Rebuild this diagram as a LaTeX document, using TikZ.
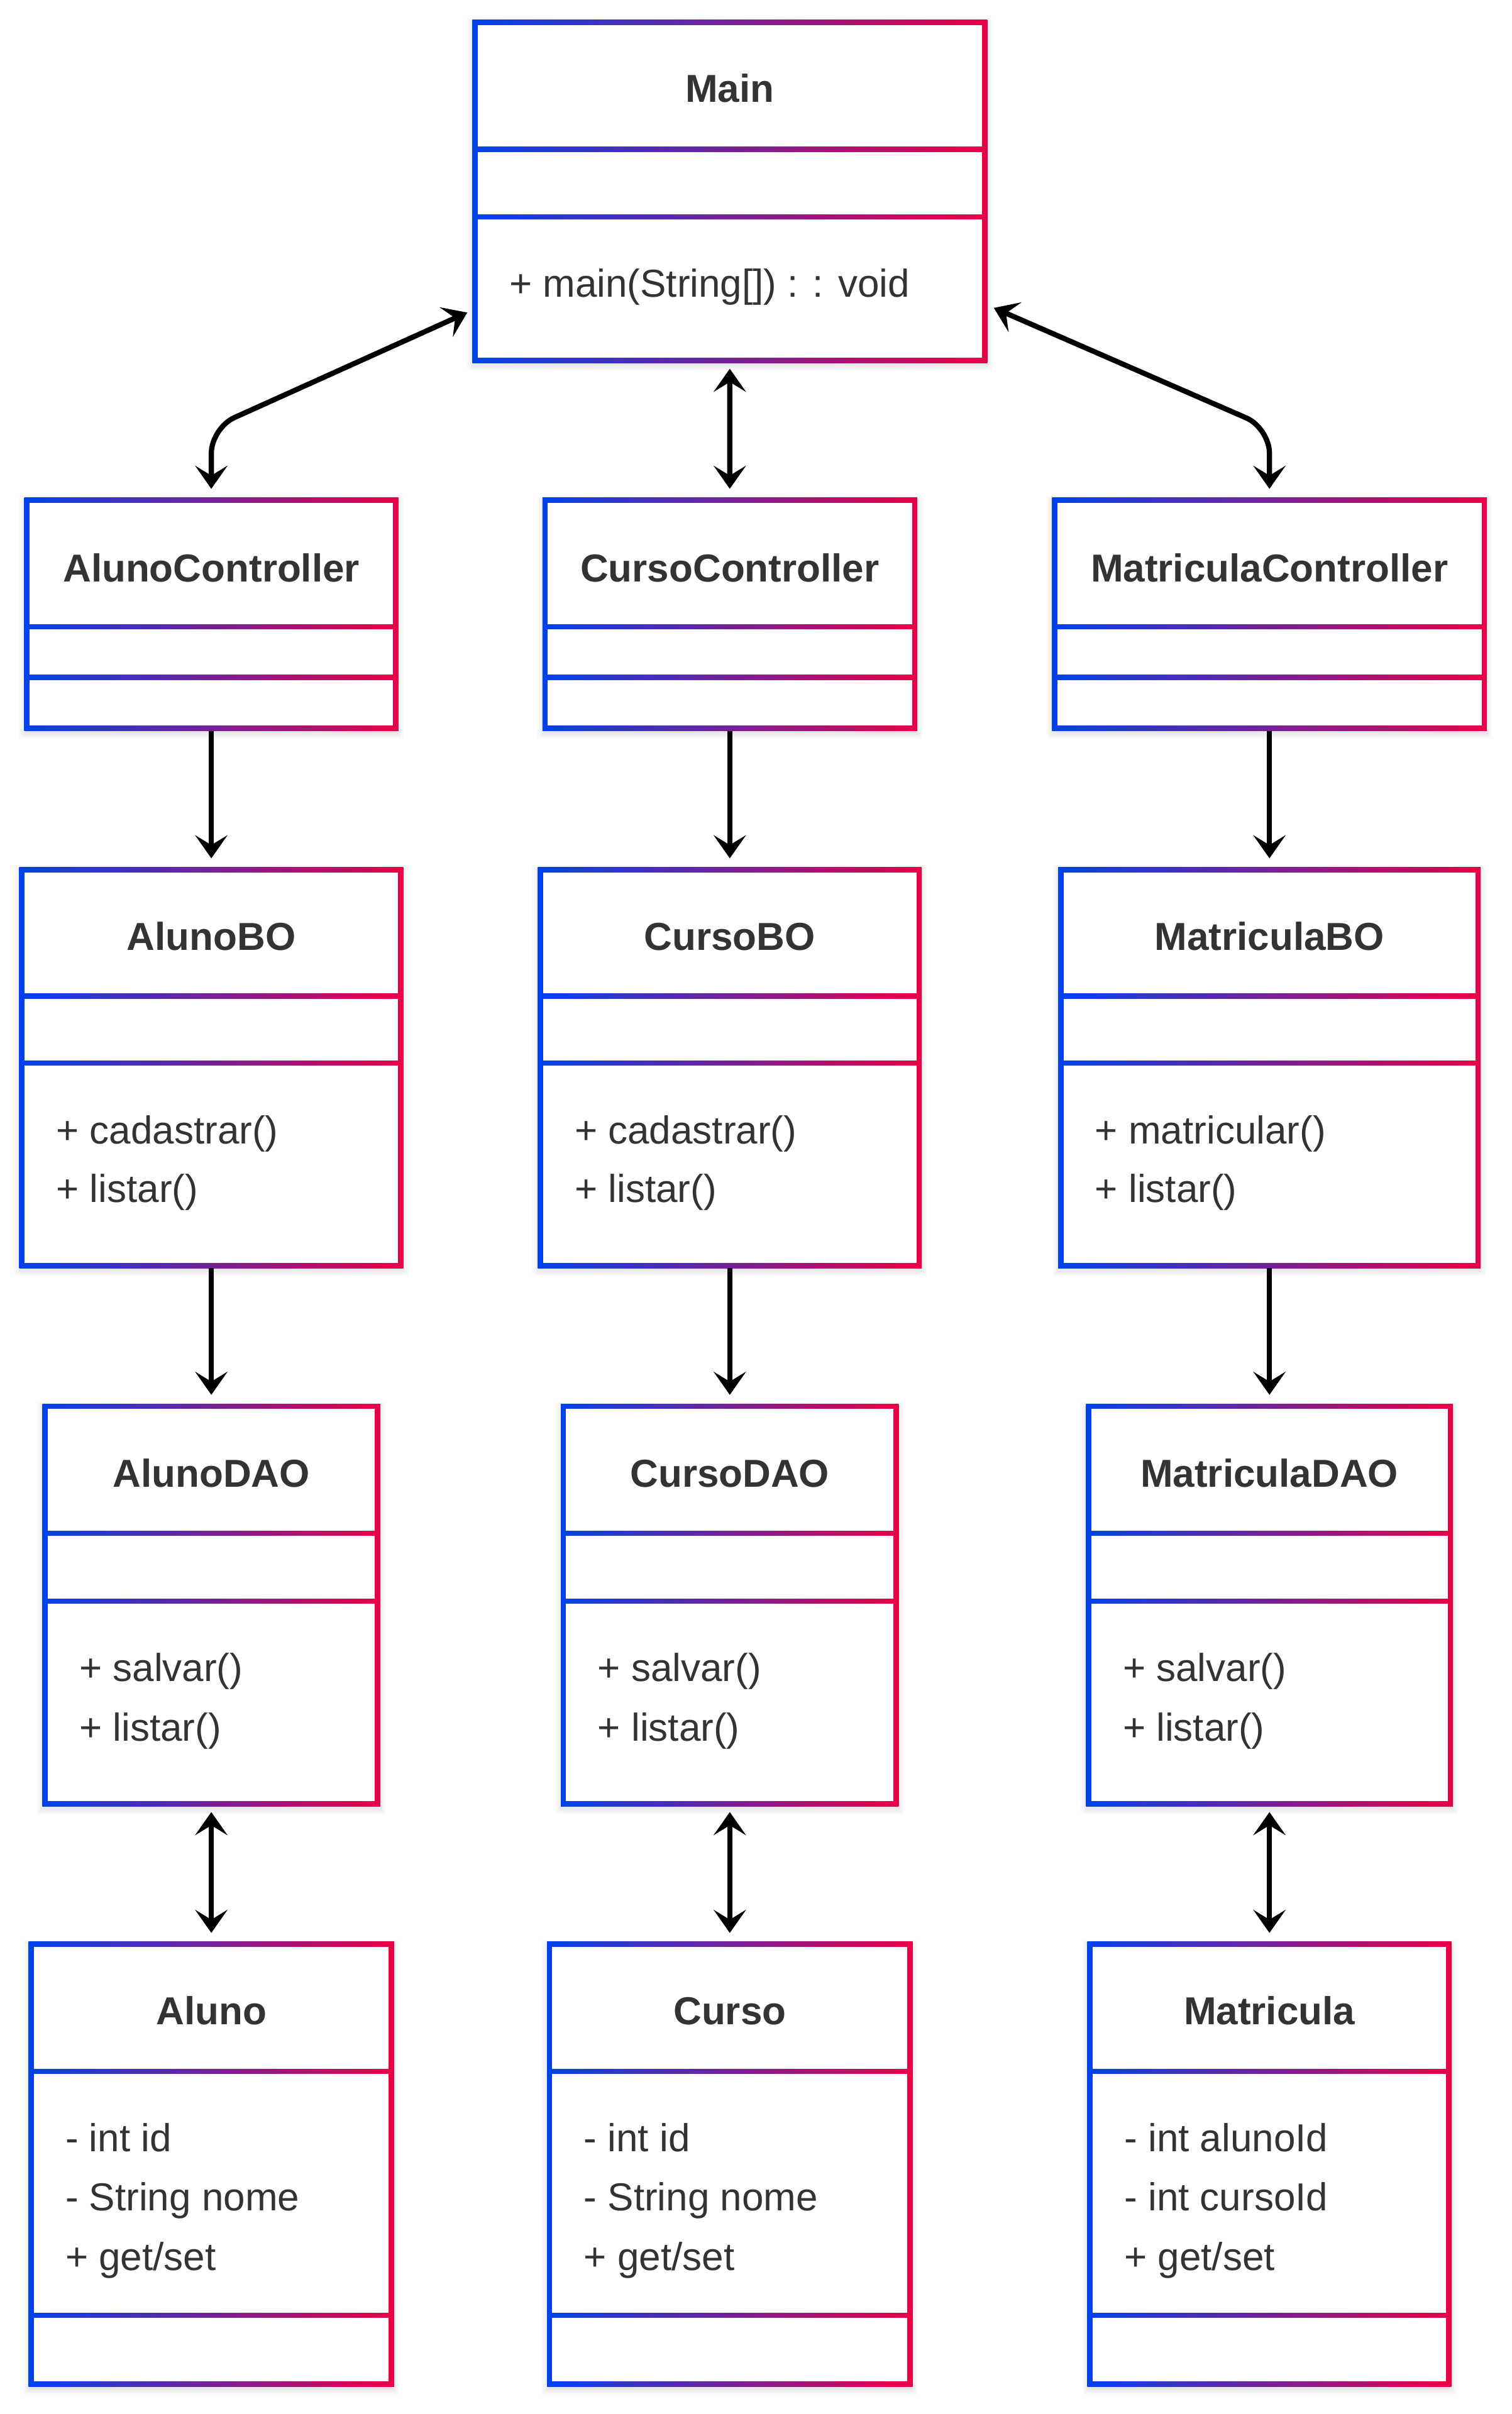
\documentclass[tikz,border=0pt]{standalone}
\usepackage{fontspec}
\setmainfont{Liberation Sans}
\usetikzlibrary{arrows.meta,calc,fit}
\definecolor{ublue}{RGB}{0,66,235}
\definecolor{ured}{RGB}{235,0,70}
\definecolor{txt}{RGB}{51,51,51}
\tikzset{
  gradborder/.style={left color=ublue,right color=ured},
  classname/.style={anchor=base,inner sep=0pt,text=txt,font=\fontsize{18}{22}\selectfont\bfseries},
  member/.style={anchor=base west,inner sep=0pt,text=txt,font=\fontsize{18}{22}\selectfont},
  tip/.style={Stealth[length=0.375cm,width=0.525cm,inset=0.16cm]},
  link/.style={line width=2.4pt,-{Stealth[length=0.375cm,width=0.525cm,inset=0.16cm]}},
  duallink/.style={line width=2.4pt,{Stealth[length=0.375cm,width=0.525cm,inset=0.16cm]}-{Stealth[length=0.375cm,width=0.525cm,inset=0.16cm]}},
}
% #1 name, #2 centre x, #3 half width, #4 top, #5 first divider, #6 second divider, #7 bottom
\newcommand{\umlclass}[7]{%
  \foreach \k in {1,...,5}
    \fill[black,opacity=0.02] (#2-#3-\k,#4-\k+2) rectangle (#2+#3+\k,#7+\k+2);
  \shade[gradborder] (#2-#3-1.7,#4-1.7) rectangle (#2+#3+1.7,#7+1.7);
  \fill[white] (#2-#3+1.7,#4+1.7) rectangle (#2+#3-1.7,#5-1.7);
  \fill[white] (#2-#3+1.7,#5+1.7) rectangle (#2+#3-1.7,#6-1.7);
  \fill[white] (#2-#3+1.7,#6+1.7) rectangle (#2+#3-1.7,#7-1.7);
  \node[fit={(#2-#3,#4) (#2+#3,#7)},inner sep=0pt,outer sep=0pt] (#1) {};
}
\begin{document}
\begin{tikzpicture}[x=0.025cm,y=-0.025cm]
  \fill[white] (0,0) rectangle (982,1568);
  \useasboundingbox (0,0) rectangle (982,1568);

  % main class
  \umlclass{main}{474}{165.5}{14.5}{97}{141}{234}
  \node[classname] (main-name) at (474,66.5) {Main};
  \node[member] (main-op1) at (330.5,193) {+ main(String[]) : : void};

  % controllers
  \foreach \n/\x/\w/\t in {alunoctl/137.25/119.75/AlunoController, cursoctl/474/120/CursoController, matctl/824.5/139.5/MatriculaController}{
    \umlclass{\n}{\x}{\w}{325}{407}{440}{473}
    \node[classname] (\n-name) at (\x,378) {\t};
  }

  % business objects
  \foreach \n/\x/\w/\t/\m in {alunobo/137.25/123/AlunoBO/cadastrar, cursobo/474/123/CursoBO/cadastrar, matbo/824.5/135.5/MatriculaBO/matricular}{
    \umlclass{\n}{\x}{\w}{565}{647}{690.5}{822}
    \node[classname] (\n-name) at (\x,617) {\t};
    \node[member] (\n-op1) at (\x-\w+22,743) {+ \m()};
    \node[member] (\n-op2) at (\x-\w+22,781) {+ listar()};
  }

  % data access objects
  \foreach \n/\x/\w/\t in {alunodao/137.25/108/AlunoDAO, cursodao/474/108/CursoDAO, matdao/824.5/117.5/MatriculaDAO}{
    \umlclass{\n}{\x}{\w}{913.5}{996}{1040}{1171.5}
    \node[classname] (\n-name) at (\x,966) {\t};
    \node[member] (\n-op1) at (\x-\w+22,1092) {+ salvar()};
    \node[member] (\n-op2) at (\x-\w+22,1131) {+ listar()};
  }

  % entities
  \foreach \n/\x/\w/\t/\a/\b in {aluno/137.25/117/Aluno/int id/String nome, curso/474/117/Curso/int id/String nome, matricula/824.5/116.5/Matricula/int alunoId/int cursoId}{
    \umlclass{\n}{\x}{\w}{1263}{1345.5}{1504}{1548.5}
    \node[classname] (\n-name) at (\x,1315) {\t};
    \node[member] (\n-at1) at (\x-\w+22,1397.5) {- \a};
    \node[member] (\n-at2) at (\x-\w+22,1436) {- \b};
    \node[member] (\n-at3) at (\x-\w+22,1474.5) {+ get/set};
  }

  % connectors
  \draw[duallink,rounded corners=0.41cm] ($(main.south west)+(-5,-31)$) -- ($(alunoctl.north)+(0,-47)$) -- ($(alunoctl.north)+(0,-7.5)$);
  \draw[duallink] ($(main.south)+(0,5.5)$) -- ($(cursoctl.north)+(0,-7.5)$);
  \draw[duallink,rounded corners=0.41cm] ($(main.south east)+(6,-34)$) -- ($(matctl.north)+(0,-47)$) -- ($(matctl.north)+(0,-7.5)$);
  \foreach \a/\b in {alunoctl/alunobo, cursoctl/cursobo, matctl/matbo, alunobo/alunodao, cursobo/cursodao, matbo/matdao}
    \draw[link] ($(\a.south)+(0,1.7)$) -- ($(\b.north)+(0,-7.5)$);
  \foreach \a/\b in {alunodao/aluno, cursodao/curso, matdao/matricula}
    \draw[duallink] ($(\a.south)+(0,5.5)$) -- ($(\b.north)+(0,-7.5)$);
\end{tikzpicture}
\end{document}
